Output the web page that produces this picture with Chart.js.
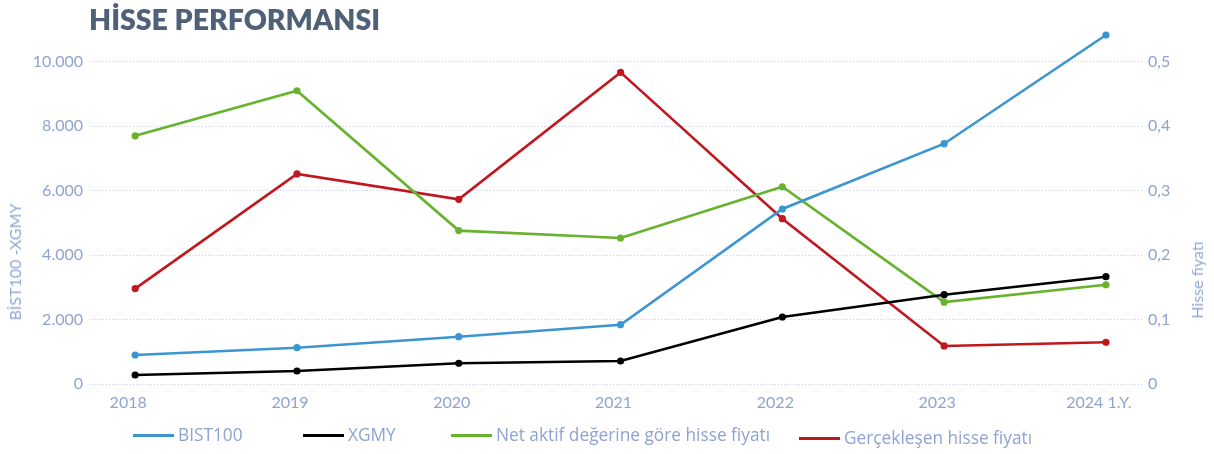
<!DOCTYPE html>
<html>
<head>
<meta charset="utf-8">
<script src="https://cdn.jsdelivr.net/npm/chart.js@4/dist/chart.umd.min.js"></script>
<style>
  html, body { margin: 0; padding: 0; background: #fff; }
  #wrap { position: relative; width: 1214px; height: 454px; overflow: hidden; font-family: Lato, "Open Sans", sans-serif; }
  #c { position: absolute; left: 0; top: 0; }
  #title { position: absolute; left: 89px; top: 5px; font: 800 28.5px/29px Lato, sans-serif; color: #4f6179; white-space: nowrap; letter-spacing: 0px; }
  .axt { position: absolute; font: 400 16px/16px Lato, sans-serif; color: #93a6d6; white-space: nowrap; transform: translate(-50%, -50%) rotate(-90deg); }
  .lg { position: absolute; height: 20px; display: flex; align-items: center; font: 400 17.3px/18px "Open Sans", sans-serif; color: #8fa2d2; white-space: nowrap; }
  .lg i { display: inline-block; width: 41px; height: 3px; margin-right: 4px; }
</style>
</head>
<body>
<div id="wrap">
  <canvas id="c" width="1214" height="454"></canvas>
  <div id="title">HİSSE PERFORMANSI</div>
  <div class="axt" style="left:15px; top:262px;">BİST100 -XGMY</div>
  <div class="axt" style="left:1197px; top:280px;">Hisse fiyatı</div>
  <div id="legend"></div>
</div>
<script>
const categories = ['2018', '2019', '2020', '2021', '2022', '2023', '2024 1.Y.'];
const bist100 = [900, 1126, 1468, 1840, 5430, 7456, 10828];
const xgmy = [279, 403, 642, 714, 2079, 2771, 3329];
const navPrice = [0.385, 0.455, 0.238, 0.2265, 0.306, 0.127, 0.154];
const realizedPrice = [0.148, 0.326, 0.2865, 0.4835, 0.2565, 0.059, 0.0647];
const leftTicks = [0, 2000, 4000, 6000, 8000, 10000];
const leftTickLabels = ['0', '2.000', '4.000', '6.000', '8.000', '10.000'];
const rightTicks = [0, 0.1, 0.2, 0.3, 0.4, 0.5];
const rightTickLabels = ['0', '0,1', '0,2', '0,3', '0,4', '0,5'];
const seriesNames = ['BIST100', 'XGMY', 'Net aktif değerine göre hisse fiyatı', 'Gerçekleşen hisse fiyatı'];

const colors = ['#3a95d1', '#000000', '#67b32e', '#c1171e'];
const legendPos = [[133, 425], [303, 425], [451, 425], [799, 428]];

const legend = document.getElementById('legend');
seriesNames.forEach((n, i) => {
  const d = document.createElement('div');
  d.className = 'lg';
  d.style.left = legendPos[i][0] + 'px';
  d.style.top = legendPos[i][1] + 'px';
  d.innerHTML = '<i style="background:' + colors[i] + '"></i><span></span>';
  d.querySelector('span').textContent = n;
  legend.appendChild(d);
});

const pts = arr => arr.map((v, i) => ({ x: i, y: v }));
const ds = (label, data, color, axis) => ({
  label, data: pts(data), yAxisID: axis,
  borderColor: color, backgroundColor: color,
  pointBackgroundColor: color, pointBorderWidth: 0,
  pointRadius: 3.6, borderWidth: 2.6, tension: 0, fill: false
});

const tickFont = { family: 'Lato', size: 16 };
const tickColor = '#8fa2d2';

new Chart(document.getElementById('c'), {
  type: 'line',
  data: {
    datasets: [
      ds(seriesNames[0], bist100, colors[0], 'y'),
      ds(seriesNames[1], xgmy, colors[1], 'y'),
      ds(seriesNames[2], navPrice, colors[2], 'y1'),
      ds(seriesNames[3], realizedPrice, colors[3], 'y1')
    ]
  },
  options: {
    responsive: false,
    animation: false,
    devicePixelRatio: 1,
    layout: { padding: { top: 29.5, left: 0, right: 0, bottom: 0 } },
    plugins: { legend: { display: false }, tooltip: { enabled: false }, title: { display: false } },
    scales: {
      x: {
        type: 'linear', min: -0.273, max: 6.229,
        afterBuildTicks: s => { s.ticks = categories.map((c, i) => ({ value: i })); },
        afterFit: s => { s.height = 70; },
        grid: { display: false, drawTicks: false },
        border: { display: false },
        ticks: { callback: v => categories[v], color: tickColor, font: tickFont, padding: 9, labelOffset: -7, maxRotation: 0, autoSkip: false }
      },
      y: {
        position: 'left', min: 0, max: 11000,
        afterBuildTicks: s => { s.ticks = leftTicks.map(v => ({ value: v })); },
        afterFit: s => { s.width = 91; },
        grid: { color: '#c6cde8', lineWidth: 1, drawTicks: false },
        border: { display: false, dash: [1, 2] },
        ticks: { callback: (v, i) => leftTickLabels[leftTicks.indexOf(v)], color: tickColor, font: tickFont, padding: 8 }
      },
      y1: {
        position: 'right', min: 0, max: 0.55,
        afterBuildTicks: s => { s.ticks = rightTicks.map(v => ({ value: v })); },
        afterFit: s => { s.width = 71; },
        grid: { display: false, drawTicks: false },
        border: { display: false },
        ticks: { callback: (v, i) => rightTickLabels[i], color: tickColor, font: tickFont, padding: 5 }
      }
    }
  }
});
</script>
</body>
</html>
